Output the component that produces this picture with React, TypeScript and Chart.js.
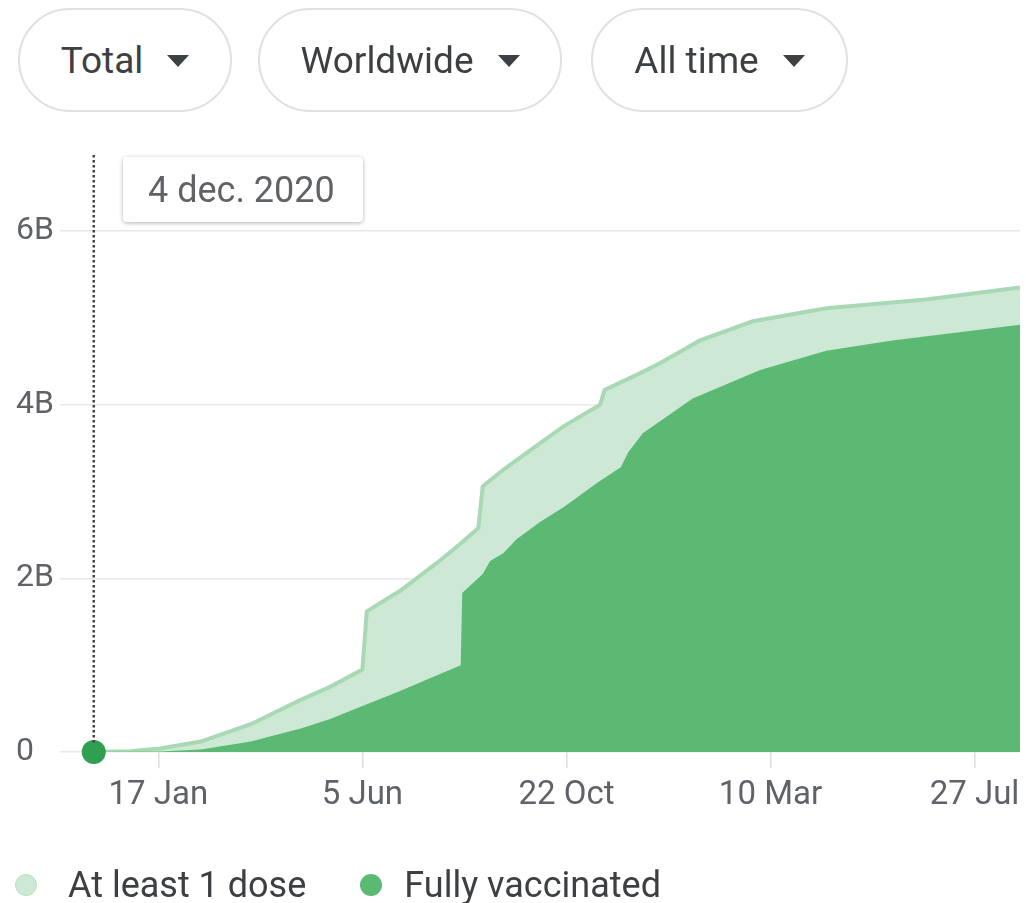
import React, { useEffect, useRef } from "react";
import { Chart, registerables } from "chart.js";

Chart.register(...registerables);

// x values are days since 4 Dec 2020
const tickDays = [44, 183, 322, 461, 600];
const tickLabels = ["17 Jan", "5 Jun", "22 Oct", "10 Mar", "27 Jul"];
const yTickValues = [0, 2, 4, 6];
const yTickLabels = ["0", "2B", "4B", "6B"];

const atLeastDays = [0, 25, 45, 73, 107, 141, 161, 183, 186, 209, 234, 250, 262, 265, 279, 297, 320, 345, 348, 372, 386, 413, 449, 499, 567, 631];
const atLeastValues = [0, 0.01, 0.04, 0.12, 0.32, 0.6, 0.75, 0.95, 1.62, 1.86, 2.18, 2.4, 2.58, 3.06, 3.25, 3.47, 3.75, 4.0, 4.17, 4.36, 4.48, 4.74, 4.96, 5.11, 5.21, 5.35];

const fullyDays = [0, 45, 73, 107, 141, 161, 183, 207, 229, 250, 251, 265, 270, 279, 288, 304, 320, 343, 359, 364, 374, 408, 454, 499, 544, 631];
const fullyValues = [0, 0.005, 0.03, 0.12, 0.27, 0.38, 0.53, 0.69, 0.85, 1.0, 1.83, 2.05, 2.2, 2.29, 2.45, 2.65, 2.82, 3.1, 3.28, 3.45, 3.67, 4.07, 4.4, 4.62, 4.74, 4.92];

const selectedDay = 0;
const selectedLabel = "4 dec. 2020";
const buttons = ["Total", "Worldwide", "All time"];
const legendItems = ["At least 1 dose", "Fully vaccinated"];

const FONT = "Roboto, 'Noto Sans', Arial, sans-serif";

const dottedLine = {
  id: "dottedLine",
  afterDatasetsDraw(chart: any) {
    const x = chart.scales.x.getPixelForValue(selectedDay);
    const ctx = chart.ctx;
    ctx.save();
    ctx.strokeStyle = "#444";
    ctx.lineWidth = 2.5;
    ctx.setLineDash([2.5, 2.5]);
    ctx.beginPath();
    ctx.moveTo(x, 155);
    ctx.lineTo(x, chart.scales.y.getPixelForValue(0) - 8);
    ctx.stroke();
    ctx.restore();
  },
};

function Caret() {
  return (
    <span
      style={{
        display: "inline-block",
        width: 0,
        height: 0,
        borderLeft: "11px solid transparent",
        borderRight: "11px solid transparent",
        borderTop: "12px solid #3c4043",
        marginLeft: 24,
        marginTop: 2,
      }}
    />
  );
}

export default function App() {
  const ref = useRef<HTMLCanvasElement | null>(null);

  useEffect(() => {
    if (!ref.current) return;
    const chart = new Chart(ref.current, {
      type: "line",
      data: {
        datasets: [
          {
            label: "dot",
            data: [{ x: selectedDay, y: 0 }],
            pointRadius: 12,
            pointBackgroundColor: "#2f9f52",
            pointBorderWidth: 0,
            showLine: false,
            order: 0,
            clip: false,
          } as any,
          {
            label: legendItems[1],
            data: fullyDays.map((d, i) => ({ x: d, y: fullyValues[i] })),
            backgroundColor: "#5bb974",
            borderWidth: 0,
            pointRadius: 0,
            fill: "origin",
            tension: 0,
            order: 1,
          },
          {
            label: legendItems[0],
            data: atLeastDays.map((d, i) => ({ x: d, y: atLeastValues[i] })),
            backgroundColor: "#cde9d5",
            borderColor: "#a8d9b4",
            borderWidth: 4,
            pointRadius: 0,
            fill: "origin",
            tension: 0,
            order: 2,
          },
        ],
      },
      options: {
        responsive: false,
        animation: false,
        layout: { autoPadding: false, padding: { left: 16, right: 6, top: 231, bottom: 91 } },
        plugins: { legend: { display: false }, tooltip: { enabled: false } },
        scales: {
          x: {
            type: "linear",
            min: -23,
            max: 631,
            afterBuildTicks: (s: any) => {
              s.ticks = tickDays.map((v) => ({ value: v }));
            },
            afterFit: (s: any) => {
              s.height = 60;
              s.paddingRight = 0;
              s.paddingLeft = 0;
            },
            grid: {
              drawOnChartArea: false,
              drawTicks: true,
              tickLength: 16,
              color: "#dddddd",
              lineWidth: 1.5,
            },
            border: { display: false },
            ticks: {
              autoSkip: false,
              maxRotation: 0,
              padding: 8,
              color: "#5f6368",
              font: { family: FONT, size: 33 },
              callback: (v: any) => tickLabels[tickDays.indexOf(v)] ?? "",
            },
          },
          y: {
            min: 0,
            max: 6,
            afterBuildTicks: (s: any) => {
              s.ticks = yTickValues.map((v) => ({ value: v }));
            },
            afterFit: (s: any) => {
              s.width = 44;
            },
            grid: { color: "#e8e8e8", lineWidth: 1.5, drawTicks: false },
            border: { display: false },
            ticks: {
              crossAlign: "far",
              padding: 0,
              color: "#5f6368",
              font: { family: FONT, size: 32 },
              callback: (v: any) => yTickLabels[yTickValues.indexOf(v)] ?? "",
            },
          },
        },
      },
      plugins: [dottedLine],
    });
    return () => chart.destroy();
  }, []);

  const btnPos = [
    { left: 18, width: 214 },
    { left: 258, width: 304 },
    { left: 591, width: 257 },
  ];

  return (
    <div
      style={{
        position: "absolute",
        left: 0,
        top: 0,
        width: 1026,
        height: 903,
        background: "#fff",
        overflow: "hidden",
        fontFamily: FONT,
      }}
    >
      <canvas ref={ref} width={1026} height={903} style={{ position: "absolute", left: 0, top: 0 }} />
      {buttons.map((b, i) => (
        <div
          key={b}
          style={{
            position: "absolute",
            left: btnPos[i].left,
            top: 8,
            width: btnPos[i].width,
            height: 104,
            boxSizing: "border-box",
            border: "2px solid #dfe1e5",
            borderRadius: 52,
            display: "flex",
            alignItems: "center",
            justifyContent: "center",
            fontSize: 37,
            color: "#3c4043",
            background: "#fff",
          }}
        >
          <span>{b}</span>
          <Caret />
        </div>
      ))}
      <div
        style={{
          position: "absolute",
          left: 123,
          top: 157,
          width: 240,
          height: 65,
          background: "#fff",
          borderRadius: 4,
          boxShadow: "0 1px 4px rgba(0,0,0,0.3)",
          display: "flex",
          alignItems: "center",
          paddingLeft: 25,
          boxSizing: "border-box",
          fontSize: 36,
          color: "#5f6368",
        }}
      >
        {selectedLabel}
      </div>
      <div
        style={{
          position: "absolute",
          left: 15,
          top: 862,
          height: 46,
          display: "flex",
          alignItems: "center",
          fontSize: 36,
          color: "#3c4043",
        }}
      >
        <span
          style={{
            width: 20,
            height: 20,
            borderRadius: "50%",
            background: "#cde9d5",
            border: "1px solid #b5dfc0",
            display: "inline-block",
          }}
        />
        <span style={{ marginLeft: 31 }}>{legendItems[0]}</span>
        <span
          style={{
            width: 22,
            height: 22,
            borderRadius: "50%",
            background: "#5bb974",
            display: "inline-block",
            marginLeft: 54,
          }}
        />
        <span style={{ marginLeft: 22 }}>{legendItems[1]}</span>
      </div>
    </div>
  );
}
